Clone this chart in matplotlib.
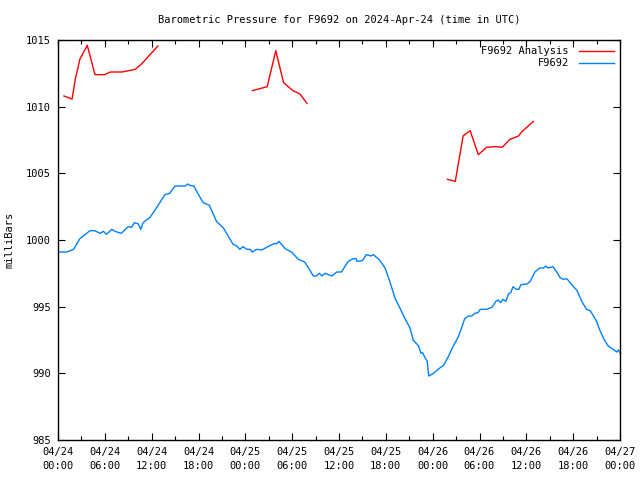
import matplotlib
matplotlib.use("Agg")
import matplotlib.pyplot as plt
from matplotlib.ticker import MultipleLocator

# hours since 2024-04-24 00:00 UTC
analysis_hours = [
    [0.77, 1.8, 2.2, 2.8, 3.75, 4.74, 6.0, 6.7, 8.2, 9.9, 10.7, 12.8],
    [24.9, 26.8, 27.9, 28.9, 30.1, 31.0, 31.9],
    [49.9, 50.9, 51.9, 52.8, 53.85, 54.9, 56.0, 56.9, 57.9, 59.0, 59.4, 60.9],
]
analysis_mb = [
    [1010.8, 1010.57, 1012.0, 1013.55, 1014.6, 1012.4, 1012.4, 1012.6, 1012.6, 1012.8, 1013.2, 1014.55],
    [1011.2, 1011.5, 1014.2, 1011.8, 1011.2, 1010.95, 1010.25],
    [1004.55, 1004.4, 1007.8, 1008.2, 1006.4, 1006.95, 1007.0, 1006.95, 1007.55, 1007.8, 1008.1, 1008.9],
]

obs_hours = [
    0.0, 1.1, 2.0, 2.8, 4.1, 4.7, 5.4, 5.8, 6.2, 6.9, 7.3, 8.1, 9.0, 9.4, 9.8,
    10.3, 10.6, 10.9, 11.8, 12.6, 13.7, 14.3, 15.0, 16.3, 16.6, 16.9, 17.4,
    18.0, 18.6, 19.4, 20.3, 21.2, 22.4, 22.9, 23.3, 23.7, 24.2, 24.6, 24.9,
    25.45, 26.1, 27.2, 27.8, 28.0, 28.3, 29.1, 29.9, 30.8, 31.6, 32.1, 32.7,
    33.1, 33.5, 33.8, 34.2, 35.1, 35.7, 36.3, 37.2, 37.8, 38.2, 38.3, 39.0,
    39.5, 40.1, 40.4, 41.2, 41.9, 42.5, 43.2, 43.8, 44.45, 45.1, 45.5, 46.2,
    46.5, 46.7, 47.0, 47.3, 47.5, 48.1, 48.9, 49.4, 50.0, 50.6, 51.3, 51.7,
    52.1, 52.6, 53.0, 53.4, 53.8, 54.1, 54.9, 55.6, 56.1, 56.4, 56.7, 57.0,
    57.4, 57.7, 58.0, 58.3, 58.7, 59.05, 59.3, 60.1, 60.5, 61.1, 61.7, 62.2,
    62.5, 62.8, 63.4, 63.9, 64.3, 64.7, 65.2, 65.6, 66.5, 67.1, 67.7, 68.2,
    69.0, 69.4, 70.0, 70.5, 71.1, 71.6, 71.8, 72.0,
]
obs_mb = [
    999.1, 999.1, 999.3, 1000.1, 1000.7, 1000.7, 1000.5, 1000.65, 1000.43,
    1000.8, 1000.65, 1000.5, 1001.0, 1000.95, 1001.3, 1001.2, 1000.8, 1001.3,
    1001.7, 1002.4, 1003.4, 1003.5, 1004.05, 1004.05, 1004.2, 1004.1, 1004.05,
    1003.4, 1002.8, 1002.6, 1001.4, 1000.9, 999.7, 999.55, 999.3, 999.5, 999.3,
    999.3, 999.1, 999.3, 999.25, 999.6, 999.75, 999.7, 999.9, 999.35, 999.1,
    998.55, 998.35, 997.9, 997.3, 997.3, 997.5, 997.3, 997.5, 997.3, 997.6,
    997.6, 998.4, 998.6, 998.6, 998.4, 998.45, 998.9, 998.8, 998.9, 998.5,
    997.9, 996.9, 995.6, 994.9, 994.1, 993.4, 992.5, 992.05, 991.5, 991.55,
    991.2, 990.9, 989.8, 990.0, 990.4, 990.6, 991.25, 992.0, 992.75, 993.4,
    994.1, 994.3, 994.3, 994.5, 994.55, 994.8, 994.8, 994.95, 995.4, 995.5,
    995.3, 995.55, 995.4, 995.95, 996.05, 996.5, 996.3, 996.3, 996.65, 996.7,
    996.9, 997.6, 997.9, 997.9, 998.05, 997.9, 998.0, 997.6, 997.2, 997.05,
    997.1, 996.8, 996.2, 995.4, 994.8, 994.7, 993.9, 993.25, 992.5, 992.05,
    991.8, 991.6, 991.75, 991.55,
]

tick_hours = list(range(0, 73, 6))
tick_labels = [
    "04/24\n00:00", "04/24\n06:00", "04/24\n12:00", "04/24\n18:00",
    "04/25\n00:00", "04/25\n06:00", "04/25\n12:00", "04/25\n18:00",
    "04/26\n00:00", "04/26\n06:00", "04/26\n12:00", "04/26\n18:00",
    "04/27\n00:00",
]

plt.rcParams["font.family"] = "DejaVu Sans Mono"
plt.rcParams["font.size"] = 7.5

fig = plt.figure(figsize=(6.4, 4.8), dpi=100)
ax = fig.add_axes([58 / 640, 40 / 480, 562 / 640, 400 / 480])

for i, (hx, my) in enumerate(zip(analysis_hours, analysis_mb)):
    ax.plot(hx, my, color="#ff0000", lw=1,
            label="F9692 Analysis" if i == 0 else None)
ax.plot(obs_hours, obs_mb, color="#0080ff", lw=1, label="F9692")

ax.set_xlim(0, 72)
ax.set_ylim(985, 1015)
ax.set_xticks(tick_hours)
ax.set_xticklabels(tick_labels, linespacing=1.45)
ax.xaxis.set_minor_locator(MultipleLocator(3))
ax.yaxis.set_major_locator(MultipleLocator(5))
ax.tick_params(which="both", direction="in", top=True, right=True, width=0.8)
ax.tick_params(which="major", length=5, pad=5)
ax.tick_params(which="minor", length=3)
for sp in ax.spines.values():
    sp.set_linewidth(1)

ax.set_title("Barometric Pressure for F9692 on 2024-Apr-24 (time in UTC)",
             fontsize=7.5, pad=12)
ax.set_ylabel("milliBars", labelpad=8)
ax.legend(loc="upper right", frameon=False, markerfirst=False,
          handlelength=3.3, borderaxespad=0.2, labelspacing=0.2,
          handletextpad=1.0)

fig.savefig("out.png", dpi=100)
